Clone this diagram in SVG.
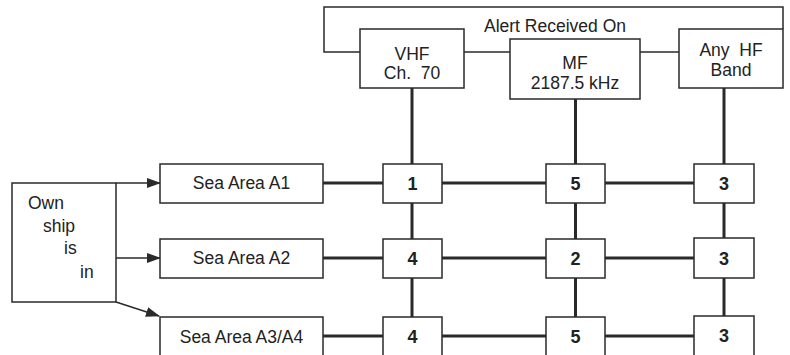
<svg xmlns="http://www.w3.org/2000/svg" width="790" height="355" viewBox="0 0 790 355">
<style>
.bx{fill:#fff;stroke:#2a2a2a;stroke-width:1.5}
.thin{fill:none;stroke:#2a2a2a;stroke-width:1.5}
.thick{fill:none;stroke:#2a2a2a;stroke-width:3}
.t{font-family:"Liberation Sans",Arial,sans-serif;font-size:17.5px;fill:#222;text-anchor:middle;white-space:pre}
.n{font-family:"Liberation Sans",Arial,sans-serif;font-size:18px;font-weight:bold;fill:#222;text-anchor:middle}
</style>
<defs>
<marker id="ah" markerWidth="14" markerHeight="10" refX="13" refY="5" orient="auto" markerUnits="userSpaceOnUse">
<path d="M0,0 L14,5 L0,10 Z" fill="#2a2a2a"/>
</marker>
</defs>
<rect width="790" height="355" fill="#fff"/>
<g id="connectors">
<polyline class="thin" points="360,52 324,52 324,7 783,7 783,29"/>
<line class="thin" x1="464" y1="52" x2="510" y2="52"/>
<line class="thin" x1="640" y1="52" x2="679" y2="52"/>
<line class="thick" x1="412" y1="88" x2="412" y2="355"/>
<line class="thick" x1="575.5" y1="99" x2="575.5" y2="355"/>
<line class="thick" x1="724" y1="88" x2="724" y2="355"/>
<line class="thick" x1="323" y1="183" x2="694" y2="183"/>
<line class="thick" x1="323" y1="258" x2="694" y2="258"/>
<line class="thick" x1="323" y1="336" x2="694" y2="336"/>
<line class="thin" x1="116" y1="183" x2="160" y2="183" marker-end="url(#ah)"/>
<line class="thin" x1="116" y1="258" x2="160" y2="258" marker-end="url(#ah)"/>
<line class="thin" x1="116" y1="302" x2="159" y2="316" marker-end="url(#ah)"/>
</g>
<text class="t" x="555" y="32">Alert Received On</text>
<g id="vhf"><rect class="bx" x="360" y="29" width="104" height="59"/><text class="t" x="412" y="59.5">VHF</text><text class="t" x="412" y="78.5">Ch.  70</text></g>
<g id="mf"><rect class="bx" x="510" y="39" width="130" height="60"/><text class="t" x="575" y="69">MF</text><text class="t" x="575" y="89">2187.5 kHz</text></g>
<g id="hf"><rect class="bx" x="679" y="29" width="104" height="59"/><text class="t" x="731" y="56">Any  HF</text><text class="t" x="731" y="76">Band</text></g>
<g id="own"><rect class="bx" x="12" y="183" width="104" height="119"/>
<text class="t" x="28" y="209" style="text-anchor:start">Own</text>
<text class="t" x="43" y="232" style="text-anchor:start">ship</text>
<text class="t" x="64" y="254" style="text-anchor:start">is</text>
<text class="t" x="80" y="278" style="text-anchor:start">in</text></g>
<g id="a1"><rect class="bx" x="160" y="164" width="163" height="39"/><text class="t" x="241.5" y="189">Sea Area A1</text></g>
<g id="a2"><rect class="bx" x="160" y="239" width="163" height="39"/><text class="t" x="241.5" y="264">Sea Area A2</text></g>
<g id="a3"><rect class="bx" x="160" y="317" width="163" height="40"/><text class="t" x="241.5" y="343">Sea Area A3/A4</text></g>
<g id="r1c1"><rect class="bx" x="383" y="164" width="59" height="39"/><text class="n" x="412.5" y="190">1</text></g>
<g id="r1c2"><rect class="bx" x="546" y="164" width="59" height="39"/><text class="n" x="575.5" y="190">5</text></g>
<g id="r1c3"><rect class="bx" x="694" y="164" width="60" height="39"/><text class="n" x="724" y="190">3</text></g>
<g id="r2c1"><rect class="bx" x="383" y="239" width="59" height="39"/><text class="n" x="412.5" y="265">4</text></g>
<g id="r2c2"><rect class="bx" x="546" y="239" width="59" height="39"/><text class="n" x="575.5" y="265">2</text></g>
<g id="r2c3"><rect class="bx" x="694" y="238" width="60" height="40"/><text class="n" x="724" y="265">3</text></g>
<g id="r3c1"><rect class="bx" x="383" y="317" width="59" height="40"/><text class="n" x="412.5" y="343">4</text></g>
<g id="r3c2"><rect class="bx" x="546" y="317" width="59" height="40"/><text class="n" x="575.5" y="343">5</text></g>
<g id="r3c3"><rect class="bx" x="694" y="316" width="60" height="41"/><text class="n" x="724" y="342">3</text></g>
</svg>
